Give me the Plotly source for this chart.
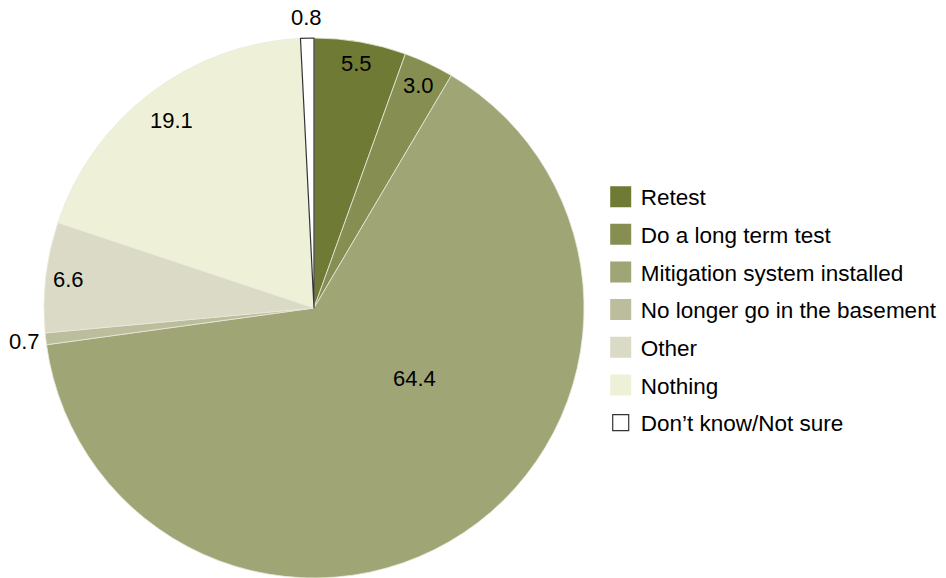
import math
import plotly.graph_objects as go

categories = ["Retest", "Do a long term test", "Mitigation system installed",
              "No longer go in the basement", "Other", "Nothing", "Don\u2019t know/Not sure"]
values = [5.5, 3.0, 64.4, 0.7, 6.6, 19.1, 0.8]
colors = ["#6f7a35", "#878e52", "#a0a575", "#bcbd9c", "#dadac6", "#eef1d8", "#ffffff"]
# label placement style: radius as fraction of pie radius, angle shift in degrees
label_r = [0.92, 0.91, 0.455, 1.08, 0.915, 0.87, 1.075]
label_shift = [0, 0, -21.5, 0, 0, 0, 0]

FONT = "Liberation Sans, Arial, Helvetica, sans-serif"
W, H = 946, 578
CX, CY, R = 314, 308, 270

fig = go.Figure()
fig.add_trace(go.Pie(
    labels=categories, values=values, sort=False, direction="clockwise", rotation=0,
    textinfo="none",
    marker=dict(colors=colors,
                line=dict(color=["#e8e8dc"] * 6 + ["#333333"], width=[0.8] * 6 + [1.2])),
    domain=dict(x=[(CX - R) / W, (CX + R) / W],
                y=[max(0, (H - CY - R) / H), min(1, (H - CY + R) / H)]),
    showlegend=False, hoverinfo="label+value",
))

total = sum(values)
cum = 0.0
for v, rf, sh in zip(values, label_r, label_shift):
    mid = (cum + v / 2) / total * 360 + sh
    cum += v
    a = math.radians(mid)
    px = CX + rf * R * math.sin(a)
    py = CY - rf * R * math.cos(a)
    fig.add_annotation(x=px / W, y=1 - py / H, xref="paper", yref="paper",
                       xanchor="center", yanchor="middle",
                       text=f"{v:.1f}", showarrow=False,
                       font=dict(family=FONT, size=22, color="black"))

for i, (c, col) in enumerate(zip(categories, colors)):
    is_white = col == "#ffffff"
    fig.add_trace(go.Scatter(
        x=[None], y=[None], mode="markers", name=c, legendgroup=f"g{i}",
        marker=dict(symbol="square", size=28, color=col,
                    line=dict(color="#333333" if is_white else col, width=1.2 if is_white else 5)),
    ))

fig.update_layout(
    width=W, height=H, margin=dict(l=0, r=0, t=0, b=0),
    paper_bgcolor="white", plot_bgcolor="white",
    xaxis=dict(visible=False), yaxis=dict(visible=False),
    font=dict(family=FONT, size=22, color="black"),
    legend=dict(x=0.635, y=(H - 310) / H, xanchor="left", yanchor="middle",
                tracegroupgap=5.4, font=dict(size=22.5), itemsizing="trace",
                borderwidth=0, bgcolor="rgba(0,0,0,0)"),
)
fig.write_html("out.html")
